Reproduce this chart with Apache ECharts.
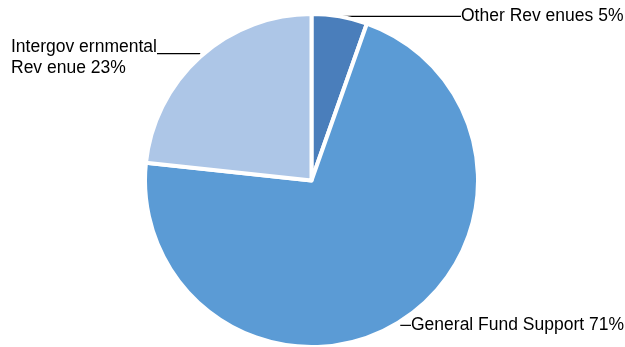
<!DOCTYPE html>
<html>
<head>
<meta charset="utf-8">
<script src="https://cdn.jsdelivr.net/npm/echarts@6/dist/echarts.min.js"></script>
<style>
html,body{margin:0;padding:0;background:#fff;}
#chart{width:625px;height:347px;}
</style>
</head>
<body>
<div id="chart"></div>
<script>
var categories = ['Other Rev enues', 'General Fund Support', 'Intergov ernmental\nRev enue'];
var values = [5.4, 71.3, 23.3];
var colors = ['#4a7ebb', '#5b9bd5', '#adc6e7'];

var chart = echarts.init(document.getElementById('chart'), null, {renderer: 'canvas'});

var labelX = [461, 411, 11];
var lineEndX = [461, 411, 157];
var lineDy = [0, 4, -3];

var data = categories.map(function (c, i) {
  return {name: c, value: values[i], itemStyle: {color: colors[i]}};
});

chart.setOption({
  animation: false,
  series: [{
    type: 'pie',
    center: [311.5, 180.5],
    radius: 166.5,
    startAngle: 90,
    clockwise: true,
    avoidLabelOverlap: false,
    data: data,
    itemStyle: {borderColor: '#ffffff', borderWidth: 4},
    label: {
      show: true,
      position: 'outside',
      color: '#000000',
      fontFamily: '"Liberation Sans", Arial, sans-serif',
      fontSize: 17.5,
      lineHeight: 21,
      align: 'left',
      formatter: function (p) {
        return p.name + ' ' + Math.round(p.percent) + '%';
      }
    },
    labelLine: {
      show: true,
      length: 10,
      length2: 10,
      lineStyle: {color: '#000000', width: 1.2}
    },
    emphasis: {disabled: true},
    labelLayout: function (params) {
      var i = params.dataIndex;
      var p0 = params.labelLinePoints[0];
      var ly = p0[1] + lineDy[i];
      if (i === 2) {
        return {
          x: labelX[i], y: ly - 17, align: 'left', verticalAlign: 'top',
          labelLinePoints: [[p0[0], ly], [lineEndX[i], ly]]
        };
      }
      return {
        x: labelX[i], y: ly, align: 'left', verticalAlign: 'middle',
        labelLinePoints: [[p0[0], ly], [lineEndX[i], ly]]
      };
    }
  }]
});
</script>
</body>
</html>
